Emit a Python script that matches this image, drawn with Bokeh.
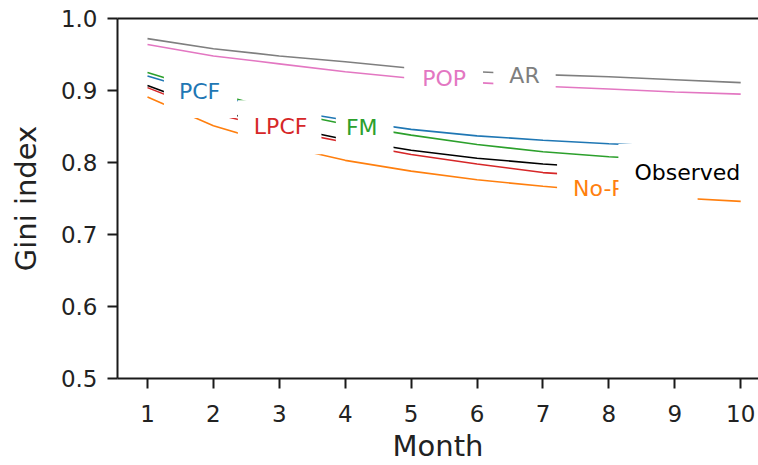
import numpy as np
from bokeh.plotting import figure
from bokeh.models import Label, LinearAxis, FixedTicker, PrintfTickFormatter, Range1d
from bokeh.embed import file_html
from bokeh.resources import INLINE

months = [1, 2, 3, 4, 5, 6, 7, 8, 9, 10]
ar = [0.972, 0.958, 0.948, 0.940, 0.931, 0.926, 0.922, 0.919, 0.915, 0.911]
pop = [0.964, 0.948, 0.937, 0.926, 0.917, 0.911, 0.906, 0.902, 0.898, 0.895]
pcf = [0.920, 0.893, 0.874, 0.859, 0.846, 0.837, 0.831, 0.826, 0.822, 0.819]
fm = [0.925, 0.897, 0.872, 0.853, 0.838, 0.825, 0.815, 0.808, 0.803, 0.799]
lpcf = [0.904, 0.868, 0.846, 0.828, 0.811, 0.798, 0.786, 0.780, 0.777, 0.775]
observed = [0.907, 0.873, 0.851, 0.832, 0.817, 0.806, 0.798, 0.792, 0.787, 0.783]
nop = [0.891, 0.851, 0.824, 0.803, 0.788, 0.776, 0.767, 0.759, 0.751, 0.746]

y_ticks = [0.5, 0.6, 0.7, 0.8, 0.9, 1.0]
x_ticks = months

# name, values, colour, month where the inline label sits, label box padding, nudge (px, up)
series = [
    ("AR", ar, "#7f7f7f", 6.72, dict(left=16, right=16, top=4, bottom=4), -2),
    ("POP", pop, "#e377c2", 5.5, dict(left=18, right=17, top=4, bottom=4), 2),
    ("PCF", pcf, "#1f77b4", 1.79, dict(left=15, right=17, top=5, bottom=14), 0),
    ("FM", fm, "#2ca02c", 4.25, dict(left=10, right=16, top=3, bottom=13), 0),
    ("LPCF", lpcf, "#d62728", 3.02, dict(left=16, right=14, top=14, bottom=15), 3),
    ("No-PCF", nop, "#ff7f0e", 8.06, dict(left=16, right=45, top=18, bottom=4), 3.5),
    ("Observed", observed, "#000000", 9.19, dict(left=16, right=18, top=16, bottom=13), 0),
]

p = figure(width=758, height=465, output_backend="svg", toolbar_location=None,
           x_range=Range1d(0.545, 10.27), y_range=Range1d(0.5, 1.0),
           min_border_left=117, min_border_right=0, min_border_top=18, min_border_bottom=86,
           x_axis_label="Month", y_axis_label="Gini index")
p.outline_line_color = None
p.grid.visible = False
p.background_fill_color = "white"
p.border_fill_color = "white"

for name, vals, color, lx, pad, dy in series:
    p.line(months, vals, line_color=color, line_width=1.6)

for name, vals, color, lx, pad, dy in series:
    ly = float(np.interp(lx, months, vals))
    p.add_layout(Label(x=lx, y=ly, text=name, text_color=color, text_font="DejaVu Sans",
                       text_font_size="22px", text_align="center", text_baseline="middle",
                       x_offset=(pad["right"] - pad["left"]) / 2,
                       y_offset=(pad["top"] - pad["bottom"]) / 2 + dy,
                       background_fill_color="white", border_line_color=None, padding=pad))

for ax in (p.xaxis[0], p.yaxis[0]):
    ax.axis_line_width = 2
    ax.axis_line_color = "#1a1a1a"
    ax.major_tick_line_width = 2
    ax.major_tick_line_color = "#1a1a1a"
    ax.major_tick_in = 0
    ax.minor_tick_line_color = None
    ax.major_label_text_font = "DejaVu Sans"
    ax.major_label_text_font_size = "23px"
    ax.major_label_text_color = "#222222"
    ax.axis_label_text_font = "DejaVu Sans"
    ax.axis_label_text_font_size = "29px"
    ax.axis_label_text_font_style = "normal"
    ax.axis_label_text_color = "#222222"

p.xaxis[0].ticker = FixedTicker(ticks=x_ticks)
p.xaxis[0].major_tick_out = 10
p.xaxis[0].major_label_standoff = 16
p.xaxis[0].axis_label_standoff = 4
p.yaxis[0].ticker = FixedTicker(ticks=y_ticks)
p.yaxis[0].formatter = PrintfTickFormatter(format="%.1f")
p.yaxis[0].major_tick_out = 10
p.yaxis[0].major_label_standoff = 10
p.yaxis[0].axis_label_standoff = 15

top = LinearAxis(ticker=FixedTicker(ticks=[]), axis_line_width=2, axis_line_color="#1a1a1a",
                 major_tick_out=0, major_tick_in=0, minor_tick_out=0, minor_tick_in=0,
                 major_label_standoff=0, major_label_text_font_size="0px")
p.add_layout(top, "above")

open("out.html", "w").write(file_html(p, INLINE))
